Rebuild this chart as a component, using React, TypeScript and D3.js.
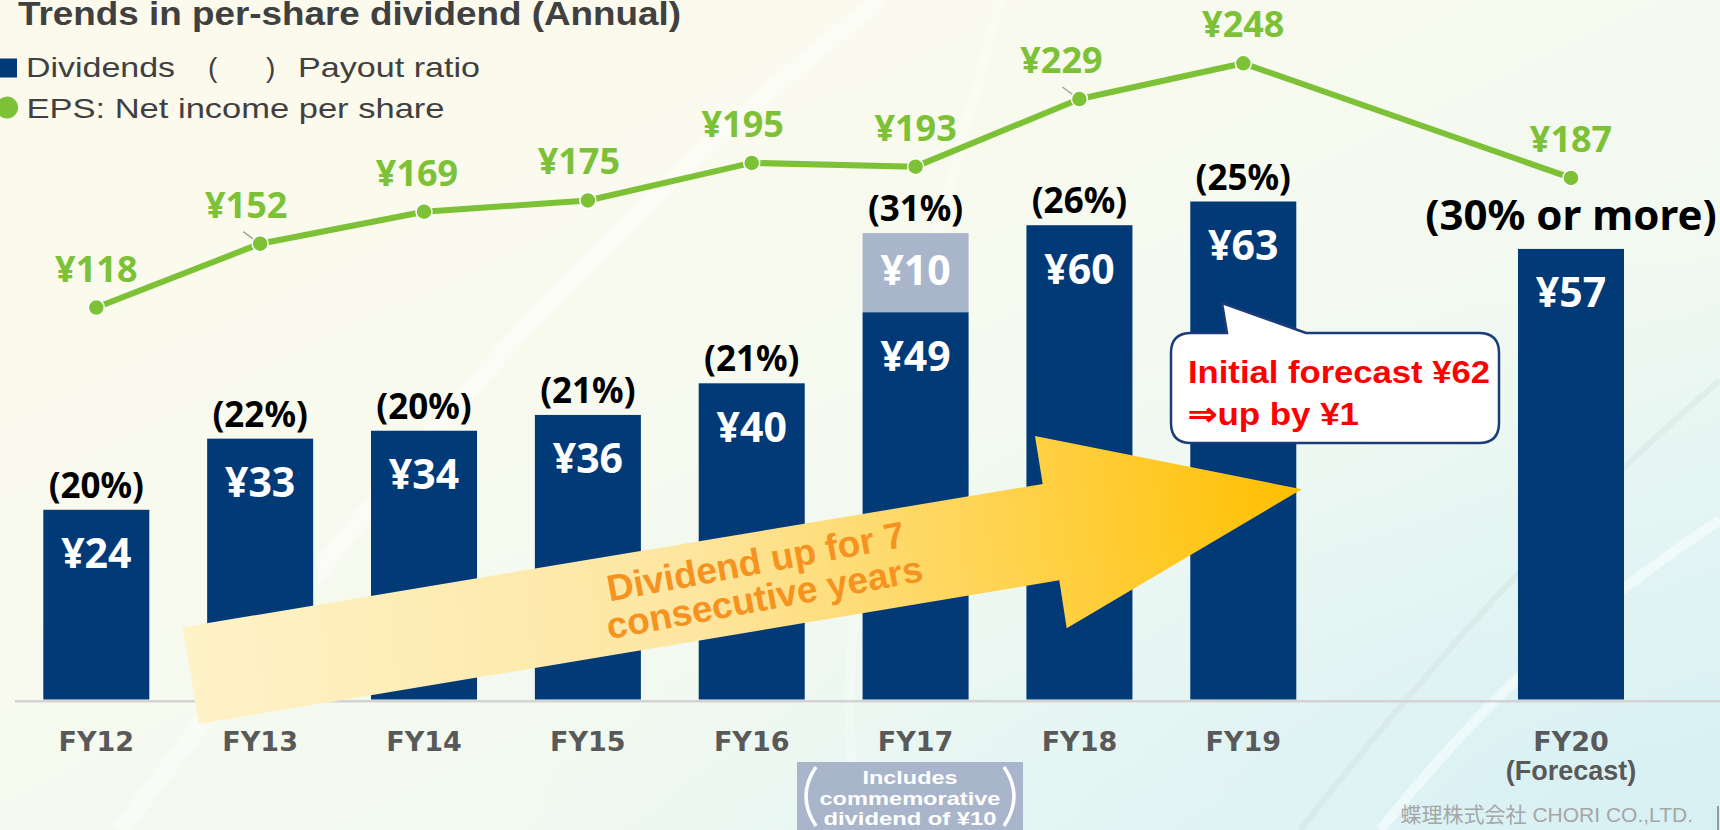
import React from "react";
import * as d3 from "d3";

const categories = ["FY12", "FY13", "FY14", "FY15", "FY16", "FY17", "FY18", "FY19", "FY20"];
const subLabels = ["", "", "", "", "", "", "", "", "(Forecast)"];
const dividends = [24, 33, 34, 36, 40, 49, 60, 63, 57];
const commemorative = [0, 0, 0, 0, 0, 10, 0, 0, 0];
const payoutRatio = ["(20%)", "(22%)", "(20%)", "(21%)", "(21%)", "(31%)", "(26%)", "(25%)", "(30% or more)"];
const eps = [118, 152, 169, 175, 195, 193, 229, 248, 187];

const W = 1720;
const H = 830;
const slots = [...categories.slice(0, 8), "_gap", categories[8]];

const NAVY = "#023a78";
const GREEN = "#7cc136";
const GREYBLUE = "#a9b5ca";
const NUM = "'Noto Sans', 'DejaVu Sans', sans-serif";
const ARIAL = "'Liberation Sans', Arial, sans-serif";

// label nudges (layout only)
const epsNudge: Record<string, number> = { FY13: -14, FY14: -7, FY15: -9, FY16: -9, FY18: -18 };

export default function App() {
  const x = d3.scaleBand<string>().domain(slots).range([43.3, 1624]).paddingInner(0.353).paddingOuter(0);
  const yBar = d3.scaleLinear().domain([0, 63]).range([699.5, 201.5]);
  const yEps = d3.scaleLinear().domain([0, 248]).range([529.3, 63.3]);
  const bw = x.bandwidth();
  const cx = (c: string) => (x(c) as number) + bw / 2;

  const line = d3
    .line<number>()
    .x((_, i) => cx(categories[i]))
    .y((d) => yEps(d));

  const arrowPts: [number, number][] = [
    [182.7, 627.3],
    [1042.7, 484],
    [1035, 436],
    [1301.7, 489.3],
    [1066.7, 628.3],
    [1059.3, 580.3],
    [199, 724],
  ];

  return (
    <svg width={W} height={H} style={{ position: "absolute", left: 0, top: 0 }} xmlns="http://www.w3.org/2000/svg">
      <defs>
        <linearGradient id="bg" x1="0" y1="0" x2="1" y2="1">
          <stop offset="0" stopColor="#fcfaec" />
          <stop offset="0.35" stopColor="#f9faee" />
          <stop offset="0.65" stopColor="#f1f9f1" />
          <stop offset="1" stopColor="#d9f1f3" />
        </linearGradient>
        <radialGradient id="bg2" cx="1" cy="1" r="0.7">
          <stop offset="0" stopColor="#d6f0f4" stopOpacity="0.9" />
          <stop offset="1" stopColor="#e6f6f4" stopOpacity="0" />
        </radialGradient>
        <linearGradient id="arrowGrad" gradientUnits="userSpaceOnUse" x1="182" y1="620" x2="1302" y2="489">
          <stop offset="0" stopColor="#fef2c8" />
          <stop offset="0.45" stopColor="#fde6a0" />
          <stop offset="0.75" stopColor="#ffd24a" />
          <stop offset="1" stopColor="#ffbf00" />
        </linearGradient>
      </defs>

      {/* background */}
      <rect x={0} y={0} width={W} height={H} fill="url(#bg)" />
      <rect x={0} y={0} width={W} height={H} fill="url(#bg2)" />
      <path d="M 120 830 C 300 600, 500 300, 880 0" fill="none" stroke="#ffffff" strokeOpacity={0.4} strokeWidth={18} />
      <path d="M 860 830 C 820 600, 900 380, 1000 0" fill="none" stroke="#ffffff" strokeOpacity={0.25} strokeWidth={10} />
      <path d="M 1300 830 C 1450 640, 1560 520, 1720 380" fill="none" stroke="#c9dcd8" strokeOpacity={0.3} strokeWidth={6} />
      <path d="M 1380 830 C 1500 680, 1600 600, 1720 520" fill="none" stroke="#ffffff" strokeOpacity={0.5} strokeWidth={10} />

      {/* title */}
      <text x={18} y={25} fontFamily={ARIAL} fontWeight="bold" fontSize={33} fill="#404040" textLength={663} lengthAdjust="spacingAndGlyphs">
        Trends in per-share dividend (Annual)
      </text>

      {/* legend */}
      <rect x={0} y={58.5} width={17} height={19} fill={NAVY} />
      <text x={26} y={77.3} fontFamily={ARIAL} fontSize={28} fill="#404040" textLength={149} lengthAdjust="spacingAndGlyphs">Dividends</text>
      <text x={208} y={77.3} fontFamily={ARIAL} fontSize={28} fill="#404040">(</text>
      <text x={266} y={77.3} fontFamily={ARIAL} fontSize={28} fill="#404040">)</text>
      <text x={298} y={77.3} fontFamily={ARIAL} fontSize={28} fill="#404040" textLength={182} lengthAdjust="spacingAndGlyphs">Payout ratio</text>
      <circle cx={7} cy={107.5} r={11} fill={GREEN} />
      <text x={26.5} y={118.3} fontFamily={ARIAL} fontSize={28} fill="#404040" textLength={418} lengthAdjust="spacingAndGlyphs">EPS: Net income per share</text>

      {/* baseline */}
      <line x1={15} x2={W} y1={701.2} y2={701.2} stroke="#d3d3d3" strokeWidth={2.6} />

      {/* bars */}
      {categories.map((c, i) => (
        <g key={c}>
          <rect x={x(c)} y={yBar(dividends[i])} width={bw} height={yBar(0) - yBar(dividends[i])} fill={NAVY} />
          {commemorative[i] > 0 && (
            <rect
              x={x(c)}
              y={yBar(dividends[i] + commemorative[i])}
              width={bw}
              height={yBar(dividends[i]) - yBar(dividends[i] + commemorative[i])}
              fill={GREYBLUE}
            />
          )}
        </g>
      ))}

      {/* axis labels */}
      {categories.map((c, i) => (
        <g key={"ax" + c}>
          <text x={cx(c)} y={750.7} textAnchor="middle" fontFamily="'DejaVu Sans', sans-serif" fontWeight="bold" fontSize={27} fill="#595959">
            {c}
          </text>
          {subLabels[i] && (
            <text x={cx(c)} y={780} textAnchor="middle" fontFamily={ARIAL} fontWeight="bold" fontSize={27} fill="#595959">
              {subLabels[i]}
            </text>
          )}
        </g>
      ))}

      {/* big arrow */}
      <path d={"M" + arrowPts.map((p) => p.join(",")).join("L") + "Z"} fill="url(#arrowGrad)" />
      <g transform="translate(758,574) rotate(-10.5)" fontFamily={ARIAL} fontWeight="bold" fontSize={37} fill="#f59220" textAnchor="middle">
        <text x={0} y={0}>Dividend up for 7</text>
        <text x={2} y={37}>consecutive years</text>
      </g>

      {/* bar value labels */}
      {categories.map((c, i) => (
        <g key={"v" + c} fontFamily={NUM} fontWeight="bold" fill="#ffffff" textAnchor="middle">
          <text x={cx(c)} y={yBar(dividends[i]) + 58.5} fontSize={41}>
            {"¥" + dividends[i]}
          </text>
          {commemorative[i] > 0 && (
            <text x={cx(c)} y={yBar(dividends[i] + commemorative[i]) + 51.5} fontSize={41}>
              {"¥" + commemorative[i]}
            </text>
          )}
        </g>
      ))}

      {/* payout ratio labels */}
      {categories.map((c, i) => {
        const big = payoutRatio[i].length > 6;
        return (
          <text
            key={"p" + c}
            x={cx(c)}
            y={yBar(dividends[i] + commemorative[i]) - (big ? 19 : 12)}
            textAnchor="middle"
            fontFamily={NUM}
            fontWeight="bold"
            fontSize={big ? 42 : 35}
            fill="#000000"
          >
            {payoutRatio[i]}
          </text>
        );
      })}

      {/* EPS line */}
      <path d={line(eps) as string} fill="none" stroke={GREEN} strokeWidth={6} strokeLinejoin="round" />
      {eps.map((v, i) => {
        const c = categories[i];
        const nudge = epsNudge[c] || 0;
        return (
          <g key={"e" + c}>
            {nudge < -12 && (
              <line x1={cx(c) - 17} y1={yEps(v) - 12} x2={cx(c) - 2} y2={yEps(v) - 1} stroke="#a0a0a0" strokeWidth={1.5} />
            )}
            <circle cx={cx(c)} cy={yEps(v)} r={8} fill={GREEN} stroke="#ffffff" strokeWidth={1.5} />
            <text x={cx(c) + nudge} y={yEps(v) - 26} textAnchor="middle" fontFamily={NUM} fontWeight="bold" fontSize={36} fill={GREEN}>
              {"¥" + v}
            </text>
          </g>
        );
      })}

      {/* callout */}
      <path
        d="M 1191 333 L 1227 333 L 1222 303 L 1306 333 L 1479 333 Q 1499 333 1499 353 L 1499 423 Q 1499 443 1479 443 L 1191 443 Q 1171 443 1171 423 L 1171 353 Q 1171 333 1191 333 Z"
        fill="#ffffff"
        stroke="#1b3c78"
        strokeWidth={2.5}
      />
      <text x={1188} y={383} fontFamily={ARIAL} fontWeight="bold" fontSize={32} fill="#ff0000" textLength={302} lengthAdjust="spacingAndGlyphs">
        Initial forecast ¥62
      </text>
      <text x={1188} y={425} fontFamily={ARIAL} fontWeight="bold" fontSize={32} fill="#ff0000" textLength={171} lengthAdjust="spacingAndGlyphs">
        ⇒up by ¥1
      </text>

      {/* footnote box */}
      <rect x={797} y={762} width={226} height={68} fill={GREYBLUE} />
      <g fontFamily={ARIAL} fontWeight="bold" fontSize={19} fill="#ffffff" textAnchor="middle">
        <text x={910} y={784} textLength={95} lengthAdjust="spacingAndGlyphs">Includes</text>
        <text x={910} y={805} textLength={181} lengthAdjust="spacingAndGlyphs">commemorative</text>
        <text x={910} y={825} textLength={173} lengthAdjust="spacingAndGlyphs">dividend of ¥10</text>
      </g>
      <path d="M 816 767 Q 796 796 816 826" fill="none" stroke="#ffffff" strokeWidth={3.5} />
      <path d="M 1004 767 Q 1024 796 1004 826" fill="none" stroke="#ffffff" strokeWidth={3.5} />

      {/* footer */}
      <text x={1693} y={822} textAnchor="end" fontFamily="'Liberation Sans', 'Noto Sans CJK JP', sans-serif" fontSize={21} fill="#a6a6a6">
        蝶理株式会社 CHORI CO.,LTD.
      </text>
      <line x1={1718} x2={1718} y1={806} y2={830} stroke="#7f7f7f" strokeWidth={1.5} />
    </svg>
  );
}
